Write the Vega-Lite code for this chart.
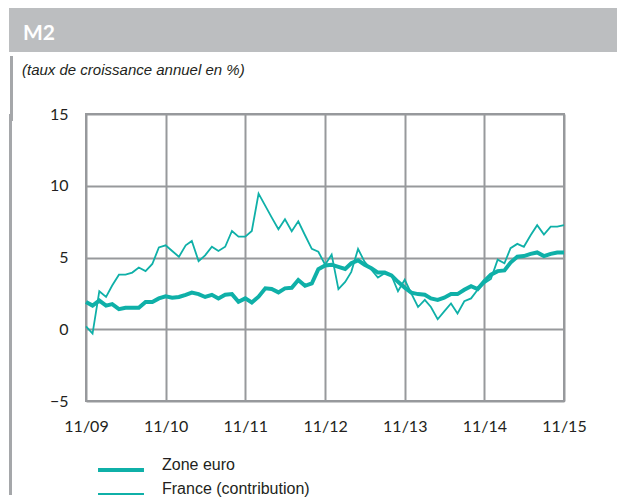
{
  "$schema": "https://vega.github.io/schema/vega-lite/v6.json",
  "padding": {"left": 8, "top": 8, "right": 0, "bottom": 0},
  "background": "white",
  "spacing": 0,
  "align": "none",
  "datasets": {
    "one": [{"k": 1}],
    "m2": [
      {"date": "2009-11-01", "Zone euro": 1.9, "France (contribution)": 0.2},
      {"date": "2009-12-01", "Zone euro": 1.65, "France (contribution)": -0.3},
      {"date": "2010-01-01", "Zone euro": 2.0, "France (contribution)": 2.65},
      {"date": "2010-02-01", "Zone euro": 1.65, "France (contribution)": 2.25},
      {"date": "2010-03-01", "Zone euro": 1.75, "France (contribution)": 3.05},
      {"date": "2010-04-01", "Zone euro": 1.4, "France (contribution)": 3.8},
      {"date": "2010-05-01", "Zone euro": 1.5, "France (contribution)": 3.8},
      {"date": "2010-06-01", "Zone euro": 1.5, "France (contribution)": 3.95},
      {"date": "2010-07-01", "Zone euro": 1.5, "France (contribution)": 4.3},
      {"date": "2010-08-01", "Zone euro": 1.9, "France (contribution)": 4.05},
      {"date": "2010-09-01", "Zone euro": 1.9, "France (contribution)": 4.55},
      {"date": "2010-10-01", "Zone euro": 2.15, "France (contribution)": 5.7},
      {"date": "2010-11-01", "Zone euro": 2.3, "France (contribution)": 5.85},
      {"date": "2010-12-01", "Zone euro": 2.2, "France (contribution)": 5.45},
      {"date": "2011-01-01", "Zone euro": 2.25, "France (contribution)": 5.05},
      {"date": "2011-02-01", "Zone euro": 2.4, "France (contribution)": 5.85},
      {"date": "2011-03-01", "Zone euro": 2.55, "France (contribution)": 6.15},
      {"date": "2011-04-01", "Zone euro": 2.45, "France (contribution)": 4.75},
      {"date": "2011-05-01", "Zone euro": 2.25, "France (contribution)": 5.15},
      {"date": "2011-06-01", "Zone euro": 2.4, "France (contribution)": 5.75},
      {"date": "2011-07-01", "Zone euro": 2.15, "France (contribution)": 5.45},
      {"date": "2011-08-01", "Zone euro": 2.4, "France (contribution)": 5.75},
      {"date": "2011-09-01", "Zone euro": 2.45, "France (contribution)": 6.85},
      {"date": "2011-10-01", "Zone euro": 1.92, "France (contribution)": 6.45},
      {"date": "2011-11-01", "Zone euro": 2.15, "France (contribution)": 6.45},
      {"date": "2011-12-01", "Zone euro": 1.87, "France (contribution)": 6.85},
      {"date": "2012-01-01", "Zone euro": 2.27, "France (contribution)": 9.45},
      {"date": "2012-02-01", "Zone euro": 2.85, "France (contribution)": 8.6},
      {"date": "2012-03-01", "Zone euro": 2.8, "France (contribution)": 7.8},
      {"date": "2012-04-01", "Zone euro": 2.57, "France (contribution)": 6.97},
      {"date": "2012-05-01", "Zone euro": 2.85, "France (contribution)": 7.66},
      {"date": "2012-06-01", "Zone euro": 2.89, "France (contribution)": 6.83},
      {"date": "2012-07-01", "Zone euro": 3.43, "France (contribution)": 7.52},
      {"date": "2012-08-01", "Zone euro": 3.03, "France (contribution)": 6.55},
      {"date": "2012-09-01", "Zone euro": 3.19, "France (contribution)": 5.6},
      {"date": "2012-10-01", "Zone euro": 4.19, "France (contribution)": 5.4},
      {"date": "2012-11-01", "Zone euro": 4.45, "France (contribution)": 4.5},
      {"date": "2012-12-01", "Zone euro": 4.5, "France (contribution)": 5.2},
      {"date": "2013-01-01", "Zone euro": 4.35, "France (contribution)": 2.8},
      {"date": "2013-02-01", "Zone euro": 4.2, "France (contribution)": 3.3},
      {"date": "2013-03-01", "Zone euro": 4.6, "France (contribution)": 4.0},
      {"date": "2013-04-01", "Zone euro": 4.8, "France (contribution)": 5.6},
      {"date": "2013-05-01", "Zone euro": 4.5, "France (contribution)": 4.7},
      {"date": "2013-06-01", "Zone euro": 4.25, "France (contribution)": 4.15},
      {"date": "2013-07-01", "Zone euro": 3.95, "France (contribution)": 3.6},
      {"date": "2013-08-01", "Zone euro": 3.95, "France (contribution)": 3.9},
      {"date": "2013-09-01", "Zone euro": 3.75, "France (contribution)": 3.75},
      {"date": "2013-10-01", "Zone euro": 3.3, "France (contribution)": 2.65},
      {"date": "2013-11-01", "Zone euro": 2.9, "France (contribution)": 3.45},
      {"date": "2013-12-01", "Zone euro": 2.55, "France (contribution)": 2.5},
      {"date": "2014-01-01", "Zone euro": 2.45, "France (contribution)": 1.55},
      {"date": "2014-02-01", "Zone euro": 2.4, "France (contribution)": 2.05},
      {"date": "2014-03-01", "Zone euro": 2.15, "France (contribution)": 1.55},
      {"date": "2014-04-01", "Zone euro": 2.05, "France (contribution)": 0.7},
      {"date": "2014-05-01", "Zone euro": 2.2, "France (contribution)": 1.25},
      {"date": "2014-06-01", "Zone euro": 2.45, "France (contribution)": 1.8},
      {"date": "2014-07-01", "Zone euro": 2.45, "France (contribution)": 1.1},
      {"date": "2014-08-01", "Zone euro": 2.75, "France (contribution)": 1.95},
      {"date": "2014-09-01", "Zone euro": 3.0, "France (contribution)": 2.15},
      {"date": "2014-10-01", "Zone euro": 2.8, "France (contribution)": 2.75},
      {"date": "2014-11-01", "Zone euro": 3.35, "France (contribution)": 3.2},
      {"date": "2014-12-01", "Zone euro": 3.8, "France (contribution)": 3.5},
      {"date": "2015-01-01", "Zone euro": 4.05, "France (contribution)": 4.85},
      {"date": "2015-02-01", "Zone euro": 4.1, "France (contribution)": 4.6},
      {"date": "2015-03-01", "Zone euro": 4.65, "France (contribution)": 5.65},
      {"date": "2015-04-01", "Zone euro": 5.05, "France (contribution)": 5.95},
      {"date": "2015-05-01", "Zone euro": 5.1, "France (contribution)": 5.75},
      {"date": "2015-06-01", "Zone euro": 5.25, "France (contribution)": 6.55},
      {"date": "2015-07-01", "Zone euro": 5.35, "France (contribution)": 7.25},
      {"date": "2015-08-01", "Zone euro": 5.1, "France (contribution)": 6.6},
      {"date": "2015-09-01", "Zone euro": 5.25, "France (contribution)": 7.15},
      {"date": "2015-10-01", "Zone euro": 5.35, "France (contribution)": 7.15},
      {"date": "2015-11-01", "Zone euro": 5.35, "France (contribution)": 7.25}
    ]
  },
  "vconcat": [
    {
      "width": 609,
      "height": 44,
      "data": {"name": "one"},
      "view": {"fill": "#bcbec0", "stroke": null},
      "mark": {"type": "rect", "color": "#bcbec0"},
      "title": {
        "text": "M2",
        "anchor": "start",
        "frame": "group",
        "dx": 14,
        "offset": -36,
        "color": "white",
        "font": "Lato",
        "fontSize": 21,
        "fontWeight": "bold"
      }
    },
    {
      "concat": [
        {
          "width": 3,
          "height": 381,
          "data": {"name": "one"},
          "view": {"fill": "#a5a7aa", "stroke": null},
          "mark": {"type": "point", "opacity": 0, "size": 0, "strokeWidth": 0},
          "encoding": {
            "x": {
              "field": "k",
              "type": "quantitative",
              "scale": {"domain": [0, 2]},
              "axis": {
                "orient": "top",
                "values": [1],
                "labels": false,
                "domain": false,
                "grid": false,
                "ticks": true,
                "offset": -5,
                "tickSize": 62,
                "tickWidth": 3,
                "tickCap": "square",
                "tickColor": "#a5a7aa",
                "title": null
              }
            }
          }
        },
        {
          "width": 478,
          "height": 287,
          "data": {"name": "m2"},
          "transform": [{"fold": ["Zone euro", "France (contribution)"], "as": ["series", "value"]}],
          "view": {"stroke": "#97999c", "strokeWidth": 2},
          "title": {
            "text": ["", "(taux de croissance annuel en %)"],
            "anchor": "start",
            "frame": "group",
            "dx": -64,
            "offset": 28,
            "lineHeight": 10,
            "font": "Liberation Sans",
            "fontSize": 15,
            "fontStyle": "italic",
            "fontWeight": "normal",
            "color": "#231f20"
          },
          "mark": {"type": "line", "strokeJoin": "miter"},
          "encoding": {
            "x": {
              "field": "date",
              "type": "temporal",
              "scale": {
                "type": "utc",
                "domain": [
                  {"year": 2009, "month": 11, "date": 1, "utc": true},
                  {"year": 2015, "month": 11, "date": 1, "utc": true}
                ]
              },
              "axis": {
                "values": [
                  {"year": 2009, "month": 11, "date": 1, "utc": true},
                  {"year": 2010, "month": 11, "date": 1, "utc": true},
                  {"year": 2011, "month": 11, "date": 1, "utc": true},
                  {"year": 2012, "month": 11, "date": 1, "utc": true},
                  {"year": 2013, "month": 11, "date": 1, "utc": true},
                  {"year": 2014, "month": 11, "date": 1, "utc": true},
                  {"year": 2015, "month": 11, "date": 1, "utc": true}
                ],
                "format": "%m/%y",
                "title": null,
                "grid": true,
                "gridColor": "#97999c",
                "gridWidth": 2,
                "domain": false,
                "ticks": false,
                "labelFont": "Lato",
                "labelFontSize": 16,
                "labelColor": "#231f20",
                "labelPadding": 17,
                "labelFlush": false,
                "labelOverlap": false
              }
            },
            "y": {
              "field": "value",
              "type": "quantitative",
              "scale": {"domain": [-5, 15], "nice": false, "zero": false},
              "axis": {
                "values": [-5, 0, 5, 10, 15],
                "title": null,
                "grid": true,
                "gridColor": "#97999c",
                "gridWidth": 2,
                "domain": false,
                "ticks": false,
                "labelFont": "Lato",
                "labelFontSize": 16,
                "labelColor": "#231f20",
                "labelPadding": 18
              }
            },
            "color": {
              "field": "series",
              "type": "nominal",
              "scale": {"domain": ["Zone euro", "France (contribution)"], "range": ["#0fb0a8", "#0fb0a8"]},
              "legend": {
                "title": null,
                "orient": "none",
                "legendX": 104,
                "legendY": 454,
                "direction": "vertical",
                "symbolType": "M-4,0H4",
                "symbolSize": 132,
                "labelOffset": 33,
                "rowPadding": 3,
                "padding": 0,
                "labelFont": "Liberation Sans",
                "labelFontSize": 16,
                "labelColor": "#231f20",
                "labelBaseline": "alphabetic"
              }
            },
            "strokeWidth": {
              "field": "series",
              "type": "nominal",
              "scale": {"domain": ["Zone euro", "France (contribution)"], "range": [4, 1.8]},
              "legend": {
                "title": null,
                "orient": "none",
                "legendX": 104,
                "legendY": 454,
                "direction": "vertical",
                "symbolType": "M-4,0H4",
                "symbolSize": 132,
                "labelOffset": 33,
                "rowPadding": 3,
                "padding": 0,
                "labelFont": "Liberation Sans",
                "labelFontSize": 16,
                "labelColor": "#231f20",
                "labelBaseline": "alphabetic"
              }
            }
          }
        }
      ],
      "columns": 2,
      "align": "none",
      "spacing": 7
    }
  ]
}
